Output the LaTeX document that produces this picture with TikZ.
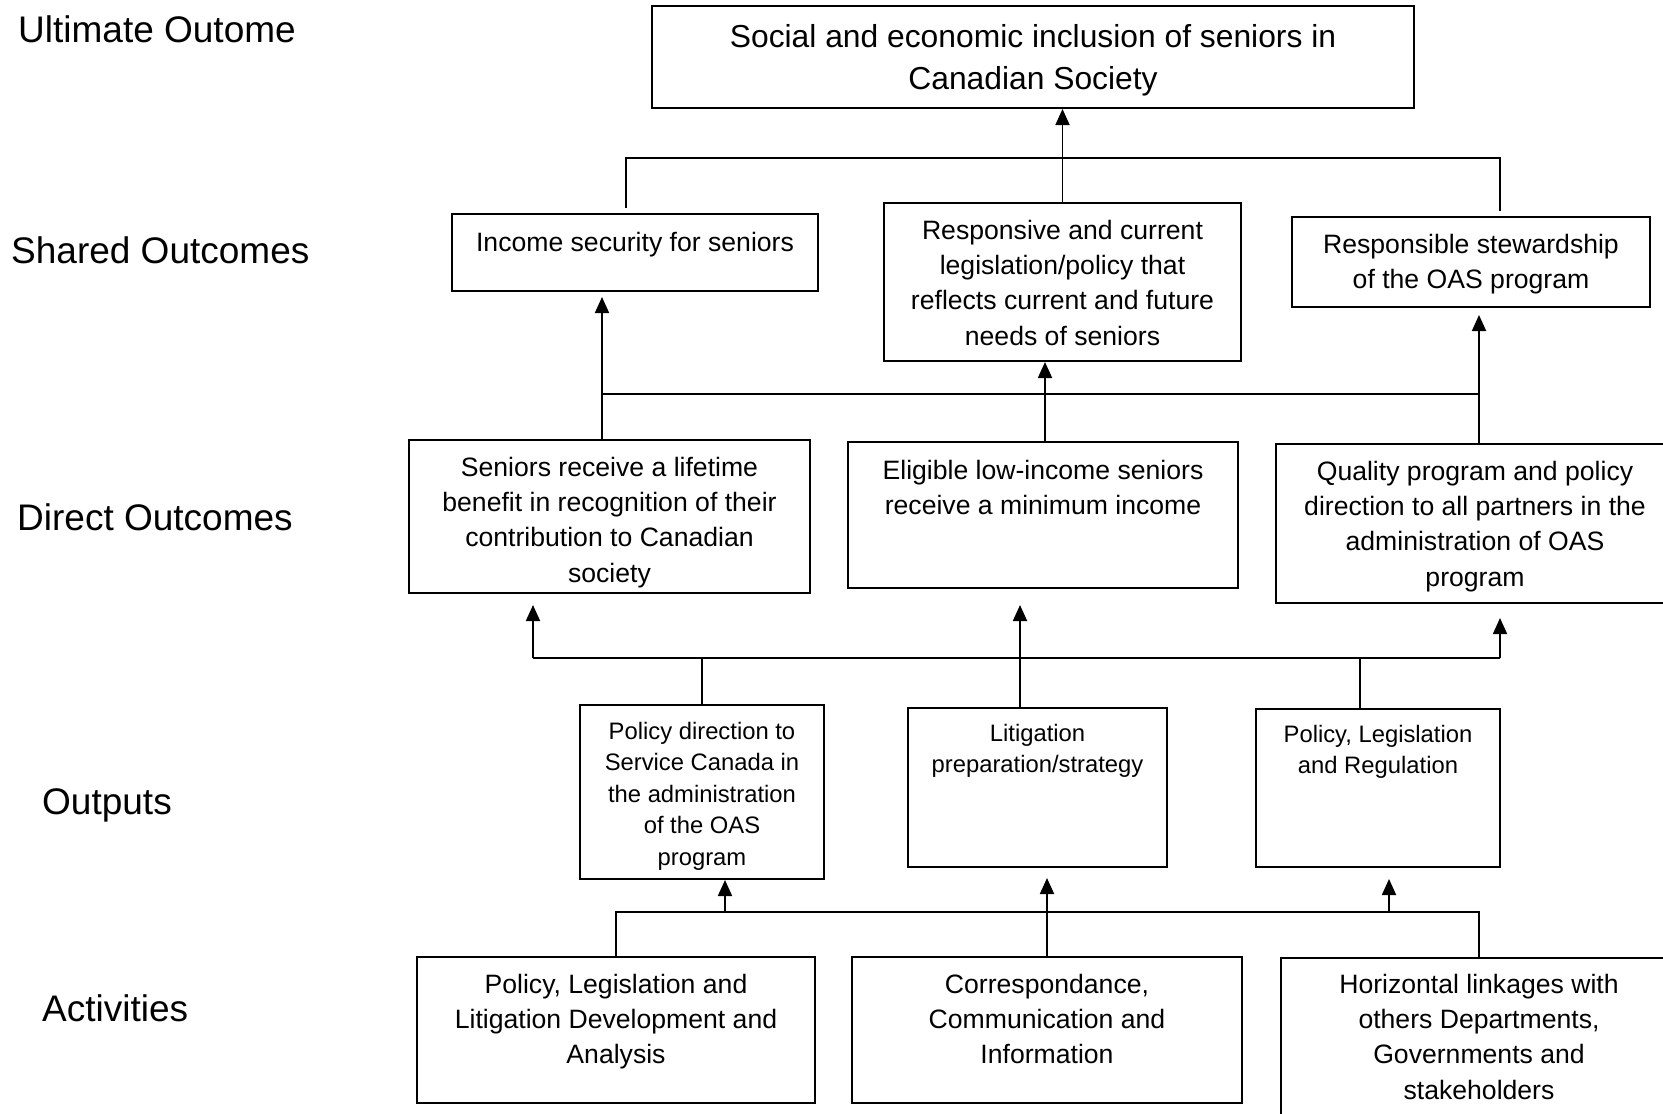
\documentclass[tikz,border=0pt]{standalone}
\usepackage{fontspec}
\setmainfont{Liberation Sans}
\usetikzlibrary{arrows.meta}

\tikzstyle{box} = [rectangle, draw=black, line width=2pt, inner sep=0pt, anchor=north west, font=\fontsize{26.6}{35.4}\selectfont]
\tikzstyle{outbox} = [box, font=\fontsize{23.8}{31.6}\selectfont]
\tikzstyle{level} = [anchor=base west, inner sep=0pt, font=\fontsize{37}{44}\selectfont]
\tikzstyle{link} = [line width=1.8pt]
\tikzstyle{arr} = [link, -{Triangle[length=16pt,width=14pt]}]

% width, height, first baseline, text
\newcommand{\cell}[4]{\parbox[c][#2pt][t]{#1pt}{\centering\rule{0pt}{#3pt}#4}}

\begin{document}
\begin{tikzpicture}[x=1pt, y=-1pt]
        \useasboundingbox (0,0) rectangle (1663,1114);
        \clip (0,0) rectangle (1663,1114);

        % level names
        \node (lu) [level] at (18,42) {Ultimate Outome};
        \node (ls) [level] at (11,263) {Shared Outcomes};
        \node (ld) [level] at (17,530) {Direct Outcomes};
        \node (lo) [level] at (42,814) {Outputs};
        \node (la) [level] at (42,1021) {Activities};

        % outcomes
        \node (ult) [box, font=\fontsize{31.8}{42.4}\selectfont] at (651,5) {\cell{762}{102}{41}{Social and economic inclusion of seniors in\\Canadian Society}};
        \node (inc) [box] at (451,213) {\cell{366}{77}{37}{Income security for seniors}};
        \node (resp) [box] at (883,202) {\cell{357}{158}{36}{Responsive and current\\legislation/policy that\\reflects current and future\\needs of seniors}};
        \node (respb) [box] at (1291,216) {\cell{358}{90}{36}{Responsible stewardship\\of the OAS program}};
        \node (sen) [box] at (408,439) {\cell{401}{153}{36}{Seniors receive a lifetime\\benefit in recognition of their\\contribution to Canadian\\society}};
        \node (eli) [box] at (847,441) {\cell{390}{146}{37}{Eligible low-income seniors\\receive a minimum income}};
        \node (qual) [box] at (1275,443) {\cell{398}{159}{36}{Quality program and policy\\direction to all partners in the\\administration of OAS\\program}};

        % outputs
        \node (pdir) [outbox] at (579,704) {\cell{244}{174}{34}{Policy direction to\\Service Canada in\\the administration\\of the OAS\\program}};
        \node (lit) [outbox] at (907,707) {\cell{259}{159}{33}{Litigation\\preparation/strategy}};
        \node (pleg) [outbox] at (1255,708) {\cell{244}{158}{33}{Policy, Legislation\\and Regulation}};

        % activities
        \node (act1) [box] at (416,956) {\cell{398}{146}{36}{Policy, Legislation and\\Litigation Development and\\Analysis}};
        \node (act2) [box] at (851,956) {\cell{390}{146}{36}{Correspondance,\\Communication and\\Information}};
        \node (act3) [box] at (1280,957) {\cell{396}{183}{35}{Horizontal linkages with\\others Departments,\\Governments and\\stakeholders}};

        % shared -> ultimate
        \coordinate (tl) at (626,158);
        \coordinate (tr) at (1500,158);
        \draw [arr] (resp.north) -- (resp.north |- ult.south);
        \draw [link] ([yshift=5pt]inc.north -| tl) -- (tl) -- (tr) -- ([yshift=5pt]respb.north -| tr);

        % direct -> shared
        \coordinate (s1) at (602,394);
        \coordinate (s2) at (1045,394);
        \coordinate (s3) at (1479,394);
        \draw [link] (s1) -- (s3);
        \draw [arr] (sen.north -| s1) -- ([yshift=-5pt]inc.south -| s1);
        \draw [arr] (eli.north -| s2) -- (resp.south -| s2);
        \draw [arr] (qual.north -| s3) -- ([yshift=-7pt]respb.south -| s3);

        % outputs -> direct
        \coordinate (dl) at (533,658);
        \coordinate (dm) at (1020,658);
        \coordinate (dp) at (1360,658);
        \coordinate (dr) at (1500,658);
        \draw [link] (dl) -- (dr);
        \draw [arr] (dl) -- ([yshift=-11pt]sen.south -| dl);
        \draw [arr] (dr) -- ([yshift=-14pt]qual.south -| dr);
        \draw [arr] (lit.north -| dm) -- ([yshift=-16pt]eli.south -| dm);
        \draw [link] (pdir.north) -- (pdir.north |- dl);
        \draw [link] (pleg.north -| dp) -- (dp);

        % activities -> outputs
        \coordinate (abus) at (0,912);
        \coordinate (ap) at (725,912);
        \coordinate (aq) at (1389,912);
        \draw [link] (act1.north) -- (act1.north |- abus) -- (act3.north |- abus) -- (act3.north);
        \draw [arr] (act2.north) -- ([yshift=-10pt]lit.south -| act2.north);
        \draw [arr] (ap) -- (pdir.south -| ap);
        \draw [arr] (aq) -- ([yshift=-11pt]pleg.south -| aq);
\end{tikzpicture}
\end{document}
